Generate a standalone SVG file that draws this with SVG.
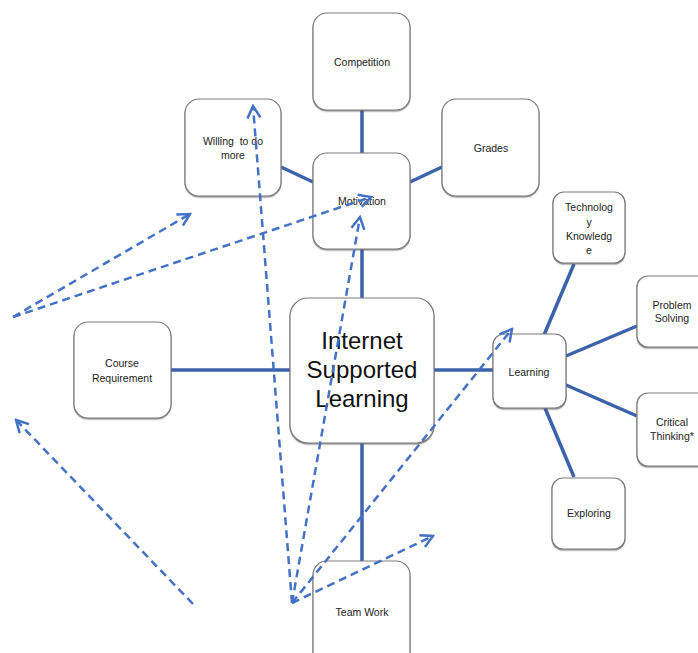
<svg xmlns="http://www.w3.org/2000/svg" width="698" height="653" viewBox="0 0 698 653">
<defs>
<filter id="sh" x="-10%" y="-10%" width="120%" height="125%">
<feDropShadow dx="0" dy="1.2" stdDeviation="0.7" flood-color="#555" flood-opacity="0.6"/>
</filter>
<marker id="ah" viewBox="0 0 16 16" refX="14" refY="8" markerWidth="16" markerHeight="16" markerUnits="userSpaceOnUse" orient="auto">
<path d="M2,1.5 L14,8 L2,14.5" fill="none" stroke="#4472c4" stroke-width="2.5"/>
</marker>
<style>
.box{fill:#fff;stroke:#7a7a7a;stroke-width:1.2;filter:url(#sh)}
.t{font-family:"Liberation Sans",Arial,sans-serif;font-size:10.5px;fill:#222;text-anchor:middle}
.big{font-family:"Liberation Sans",Arial,sans-serif;font-size:24px;fill:#111;text-anchor:middle}
.sol{stroke:#3c62ac;stroke-width:3.5;fill:none}
.dash{stroke:#4472c4;stroke-width:2.5;fill:none;stroke-dasharray:8 5;marker-end:url(#ah)}
.dashn{stroke:#4472c4;stroke-width:2.5;fill:none;stroke-dasharray:8 5}
</style>
</defs>
<g id="connectors">
<line class="sol" x1="362" y1="110" x2="362" y2="153"/>
<line class="sol" x1="281" y1="167" x2="313" y2="182"/>
<line class="sol" x1="410" y1="182" x2="442" y2="167"/>
<line class="sol" x1="362" y1="249" x2="362" y2="298"/>
<line class="sol" x1="171" y1="370" x2="290" y2="370"/>
<line class="sol" x1="434" y1="370" x2="493" y2="370"/>
<line class="sol" x1="362" y1="443" x2="362" y2="561"/>
<line class="sol" x1="574" y1="264" x2="544" y2="335"/>
<line class="sol" x1="566" y1="356" x2="637" y2="326"/>
<line class="sol" x1="566" y1="385" x2="637" y2="416"/>
<line class="sol" x1="545" y1="408" x2="574" y2="477"/>
</g>
<g id="competition"><rect class="box" x="313" y="13" width="97" height="97" rx="14"/><text class="t" x="362" y="66">Competition</text></g>
<g id="willing"><rect class="box" x="185" y="99" width="96" height="97" rx="14"/><text class="t" x="233" y="145" xml:space="preserve">Willing  to do</text><text class="t" x="233" y="159">more</text></g>
<g id="grades"><rect class="box" x="442" y="99" width="97" height="97" rx="14"/><text class="t" x="491" y="152">Grades</text></g>
<g id="motivation"><rect class="box" x="313" y="153" width="97" height="96" rx="14"/><text class="t" x="362" y="205">Motivation</text></g>
<g id="isl"><rect class="box" x="290" y="298" width="144" height="145" rx="18"/><text class="big" x="362" y="349">Internet</text><text class="big" x="362" y="378">Supported</text><text class="big" x="362" y="407">Learning</text></g>
<g id="course"><rect class="box" x="74" y="322" width="97" height="96" rx="14"/><text class="t" x="122" y="367">Course</text><text class="t" x="122" y="382">Requirement</text></g>
<g id="learning"><rect class="box" x="493" y="334" width="73" height="74" rx="11"/><text class="t" x="529" y="376">Learning</text></g>
<g id="tech"><rect class="box" x="553" y="192" width="72" height="71" rx="11"/><text class="t" x="589" y="211">Technolog</text><text class="t" x="589" y="226">y</text><text class="t" x="589" y="240">Knowledg</text><text class="t" x="589" y="254">e</text></g>
<g id="problem"><rect class="box" x="637" y="276" width="80" height="71" rx="11"/><text class="t" x="672" y="309">Problem</text><text class="t" x="672" y="322">Solving</text></g>
<g id="critical"><rect class="box" x="637" y="393" width="80" height="73" rx="11"/><text class="t" x="672" y="426">Critical</text><text class="t" x="672" y="440">Thinking*</text></g>
<g id="exploring"><rect class="box" x="552" y="478" width="73" height="71" rx="11"/><text class="t" x="589" y="517">Exploring</text></g>
<g id="teamwork"><rect class="box" x="313" y="561" width="97" height="110" rx="14"/><text class="t" x="362" y="616">Team Work</text></g>
<g id="dashed-arrows">
<line class="dash" x1="13" y1="317" x2="190" y2="214"/>
<line class="dash" x1="13" y1="317" x2="371" y2="197"/>
<line class="dash" x1="193" y1="604" x2="16" y2="420"/>
<line class="dash" x1="292" y1="603" x2="253" y2="106"/>
<line class="dash" x1="292" y1="603" x2="360" y2="217"/>
<line class="dash" x1="292" y1="603" x2="512" y2="329"/>
<line class="dash" x1="292" y1="603" x2="433" y2="536"/>
</g>
</svg>
